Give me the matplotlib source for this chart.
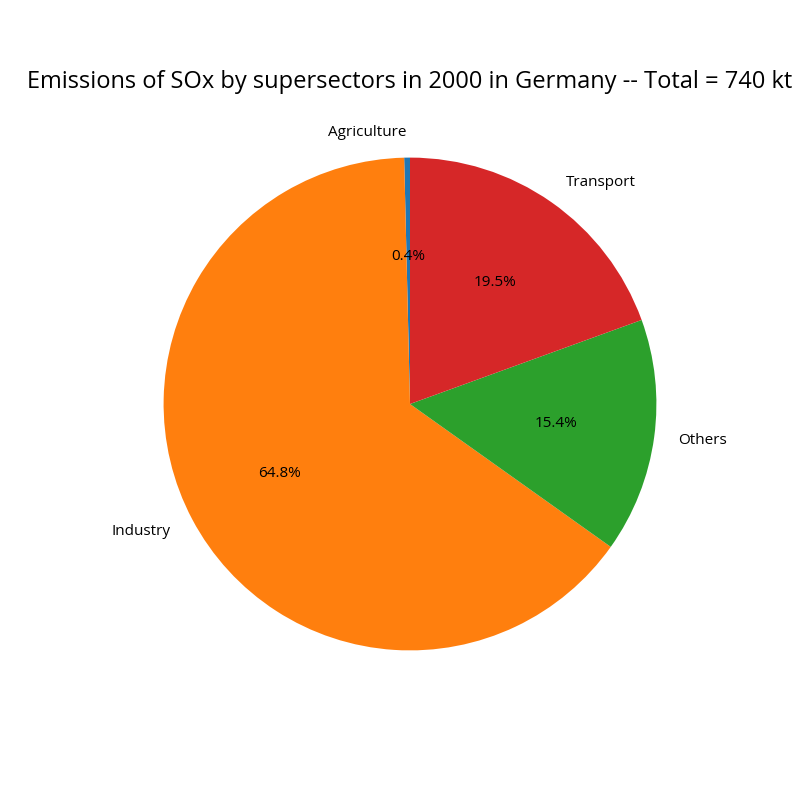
import matplotlib
matplotlib.use("Agg")
import matplotlib.pyplot as plt

plt.rcParams['font.family'] = ['Open Sans', 'DejaVu Sans']

# emissions in kt
sectors = ['Agriculture', 'Industry', 'Others', 'Transport']
emissions = [2.8, 480.0, 114.0, 144.2]
colors = ['#1f77b4', '#ff7f0e', '#2ca02c', '#d62728']

fig, ax = plt.subplots(figsize=(8, 8), dpi=100)
ax.pie(emissions, labels=sectors, colors=colors, autopct='%1.1f%%',
       startangle=90, textprops={'fontsize': 11})
ax.set_title('Emissions of SOx by supersectors in 2000 in Germany -- Total = 740 kt',
             fontsize=17)
fig.savefig('out.png', dpi=100)
